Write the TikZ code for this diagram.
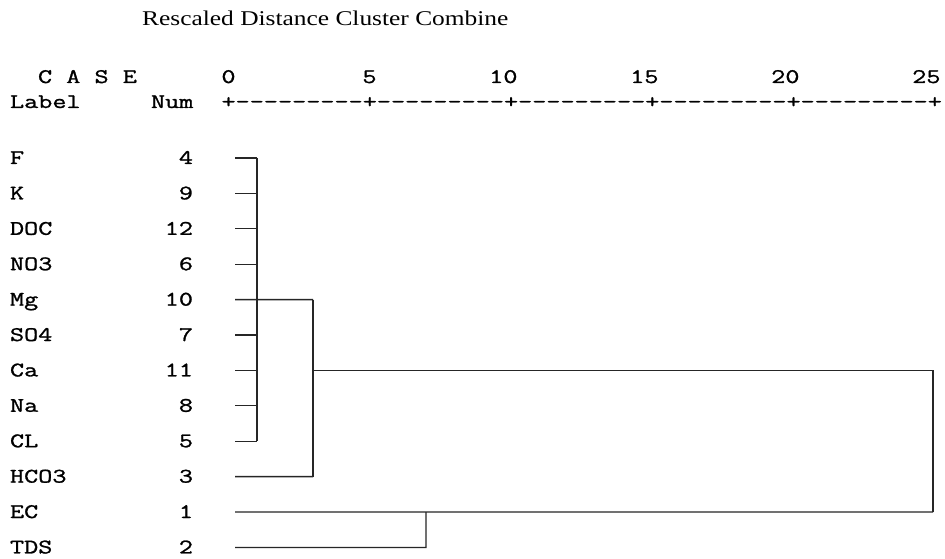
\documentclass[tikz,border=0pt]{standalone}
\usepackage{fontspec}
\newfontfamily\monof[FakeStretch=1.325,FakeBold=1.2]{Latin Modern Mono}
\newfontfamily\titlef[FakeStretch=1.21]{Liberation Serif}
\begin{document}
\begin{tikzpicture}[x=1pt,y=-1pt,
  txt/.style={inner sep=0pt,outer sep=0pt,font=\monof\fontsize{20.7}{24}\selectfont},
  lbl/.style={txt,anchor=base west},
  numr/.style={txt,anchor=base east},
  tree/.style={line width=1.3pt,black!85}]
\useasboundingbox (0,0) rectangle (945,559);
\fill[white] (0,0) rectangle (945,559);
% title
\node[inner sep=0pt,anchor=base west,font=\titlef\fontsize{21}{25}\selectfont] (title) at (142,26) {Rescaled Distance Cluster Combine};
% header
\node[lbl] (case) at (38,83) {C A S E};
\node[lbl] (labelh) at (10,108) {Label};
\node[lbl] (numh) at (151,108) {Num};
\node[txt,anchor=base] (s0) at (228.5,83) {0};
\node[txt,anchor=base] (s5) at (369.5,83) {5};
\node[numr] (s10) at (517.5,83) {10};
\node[numr] (s15) at (658.5,83) {15};
\node[numr] (s20) at (799.5,83) {20};
\node[numr] (s25) at (940.5,83) {25};
\node[lbl] (axis) at (221.5,108) {+---------+---------+---------+---------+---------+};
% rows
\foreach \lab/\num [count=\i from 0] in {F/4,K/9,DOC/12,NO3/6,Mg/10,SO4/7,Ca/11,Na/8,CL/5,HCO3/3,EC/1,TDS/2}{
  \pgfmathsetmacro{\yy}{158+35.4*\i}
  \node[lbl] (lab\i) at (10,\yy+6) {\lab};
  \node[numr] (num\i) at (193,\yy+6) {\num};
  \coordinate (leaf\i) at (235,\yy);
}
% join coordinates
\coordinate (j1top) at (257,158);
\coordinate (j1bot) at (257,441.2);
\coordinate (j2top) at (313,299.6);
\coordinate (j2bot) at (313,476.6);
\coordinate (j2mid) at (313,370.4);
\coordinate (j3top) at (933,370.4);
\coordinate (j3bot) at (933,512);
\coordinate (j4top) at (426,512);
\coordinate (j4bot) at (426,547.4);
% first cluster leaves
\foreach \i in {0,1,2,3,5,6,7,8}{
  \draw[tree] (leaf\i) -- (leaf\i -| j1top);
}
\draw[tree] (j1top) -- (j1bot);
\draw[tree] (leaf4) -- (j2top);
\draw[tree] (j2top) -- (j2bot);
\draw[tree] (leaf9) -- (j2bot);
\draw[tree] (j2mid) -- (j3top) -- (j3bot);
\draw[tree] (leaf10) -- (j3bot);
\draw[tree] (leaf11) -- (j4bot) -- (j4top);
\end{tikzpicture}
\end{document}
